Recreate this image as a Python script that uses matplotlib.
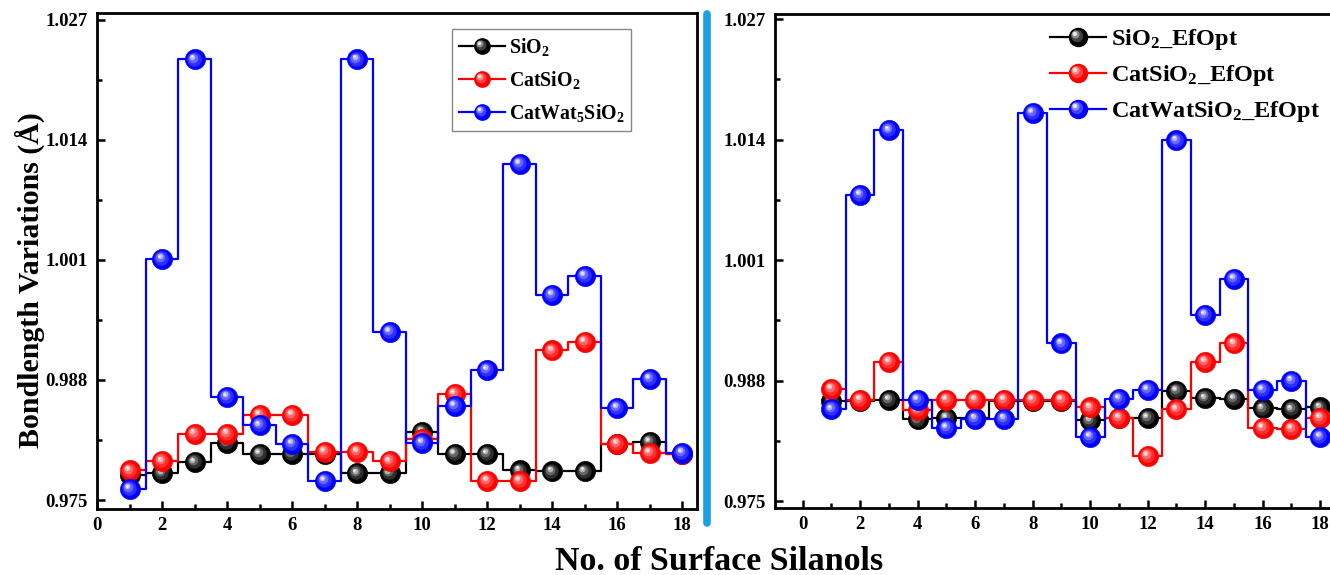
import numpy as np
import matplotlib
matplotlib.use("Agg")
import matplotlib.pyplot as plt
from matplotlib.ticker import MultipleLocator, AutoMinorLocator
from matplotlib.lines import Line2D
from matplotlib.legend_handler import HandlerTuple
from matplotlib.transforms import offset_copy
from matplotlib.colors import to_rgb
from matplotlib.path import Path

# ── Data ──────────────────────────────────────────────────────────────────
silanol = list(range(1, 19))

# left panel
sio2 = [0.9777, 0.9779, 0.9791, 0.9812, 0.9800, 0.9800, 0.9800, 0.9779, 0.9779,
        0.9824, 0.9800, 0.9800, 0.9782, 0.9781, 0.9781, 0.9811, 0.9813, 0.9800]
cat_sio2 = [0.9782, 0.9792, 0.9822, 0.9822, 0.9842, 0.9842, 0.9802, 0.9802, 0.9792,
            0.9816, 0.9865, 0.9771, 0.9771, 0.9912, 0.9921, 0.9811, 0.9801, 0.9800]
catwat_sio2 = [0.9762, 1.0011, 1.0227, 0.9862, 0.9831, 0.9811, 0.9771, 1.0227, 0.9932,
               0.9812, 0.9852, 0.9891, 1.0114, 0.9972, 0.9993, 0.9850, 0.9881, 0.9801]

# right panel (EfOpt)
sio2_ef = [0.9858, 0.9858, 0.9859, 0.9838, 0.9840, 0.9840, 0.9858, 0.9858, 0.9858,
           0.9837, 0.9840, 0.9840, 0.9869, 0.9861, 0.9860, 0.9850, 0.9849, 0.9851]
cat_sio2_ef = [0.9871, 0.9859, 0.9900, 0.9848, 0.9859, 0.9859, 0.9859, 0.9859, 0.9859,
               0.9851, 0.9840, 0.9799, 0.9849, 0.9900, 0.9920, 0.9829, 0.9828, 0.9840]
catwat_sio2_ef = [0.9849, 1.0080, 1.0150, 0.9859, 0.9829, 0.9839, 0.9839, 1.0169, 0.9920,
                  0.9819, 0.9860, 0.9870, 1.0139, 0.9951, 0.9990, 0.9870, 0.9880, 0.9819]

left_labels = ["SiO$_2$", "CatSiO$_2$", "CatWat$_5$SiO$_2$"]
right_labels = ["SiO$_2$_EfOpt", "CatSiO$_2$_EfOpt", "CatWatSiO$_2$_EfOpt"]
y_ticks = [0.975, 0.988, 1.001, 1.014, 1.027]

COLORS = ["#000000", "#ff0000", "#0000ff"]
SEP_BLUE = "#1ba1e2"

# ── Style ─────────────────────────────────────────────────────────────────
plt.rcParams["font.family"] = ["Liberation Serif", "DejaVu Serif"]
plt.rcParams["font.weight"] = "bold"
plt.rcParams["mathtext.fontset"] = "custom"
plt.rcParams["mathtext.rm"] = "Liberation Serif:bold"
plt.rcParams["mathtext.it"] = "Liberation Serif:bold"
plt.rcParams["mathtext.bf"] = "Liberation Serif:bold"

fig = plt.figure(figsize=(13.3, 5.75), dpi=100)
ax_l = fig.add_axes([97 / 1330, 1 - 509 / 575, 600 / 1330, 496.3 / 575])
ax_r = fig.add_axes([775 / 1330, 1 - 508 / 575, 565 / 1330, 494 / 575])


def lighten(c, f):
    r, g, b = to_rgb(c)
    return (r + (1 - r) * f, g + (1 - g) * f, b + (1 - b) * f)


def sphere(ax, x, y, color, size, z):
    ax.plot(x, y, ls="none", marker="o", ms=size, mfc=color, mec=color,
            mew=0.5, zorder=z)
    for frac, mix, dx, dy in [(0.72, 0.18, -0.6, 0.6), (0.48, 0.4, -1.2, 1.3),
                              (0.28, 0.7, -1.7, 1.9), (0.13, 0.95, -2.0, 2.2)]:
        tr = offset_copy(ax.transData, fig=ax.figure, x=dx, y=dy, units="points")
        ax.plot(x, y, ls="none", marker="o", ms=size * frac,
                mfc=lighten(color, mix), mec="none", transform=tr, zorder=z)


def panel(ax, series, xlim, ylim):
    for i, (vals, col) in enumerate(zip(series, COLORS)):
        ax.plot(silanol, vals, drawstyle="steps-mid", color=col, lw=1.6,
                zorder=2 + 2 * i)
        sphere(ax, silanol, vals, col, 14.5, 3 + 2 * i)
    ax.set_xlim(*xlim)
    ax.set_ylim(*ylim)
    ax.set_yticks(y_ticks)
    ax.set_yticklabels([f"{v:.3f}" for v in y_ticks])
    ax.yaxis.set_minor_locator(AutoMinorLocator(2))
    ax.xaxis.set_major_locator(MultipleLocator(2))
    ax.xaxis.set_minor_locator(MultipleLocator(1))
    ax.tick_params(which="both", direction="in", width=1.8, labelsize=13.5,
                   top=False, right=False)
    ax.tick_params(which="major", length=6)
    ax.tick_params(which="minor", length=3.5)
    ax.tick_params(axis="y", pad=7)
    ax.tick_params(axis="x", pad=6)
    for lab in ax.get_xticklabels() + ax.get_yticklabels():
        lab.set_fontweight("bold")
    for s in ax.spines.values():
        s.set_linewidth(2.0)


def shifted_dot(r, cx, cy):
    # circle off-centre; an extra lone vertex at the corner keeps the offset
    circ = Path.circle(center=(cx, cy), radius=r)
    verts = np.vstack([[[1.0, -1.0]], circ.vertices])
    codes = np.concatenate([[Path.MOVETO], circ.codes])
    return Path(verts, codes)


def handles(size):
    hs = []
    for col in COLORS:
        base = Line2D([], [], color=col, lw=1.6, marker="o", ms=size,
                      mfc=col, mec=col)
        parts = [base]
        for r, mix, off in [(0.34, 0.25, 0.08), (0.22, 0.55, 0.16), (0.12, 0.9, 0.2)]:
            parts.append(Line2D([], [], ls="none", marker=shifted_dot(r, -off, off),
                                ms=size * 2, mfc=lighten(col, mix), mec="none"))
        hs.append(tuple(parts))
    return hs


panel(ax_l, [sio2, cat_sio2, catwat_sio2], (0, 18.46), (0.97403, 1.02776))
panel(ax_r, [sio2_ef, cat_sio2_ef, catwat_sio2_ef], (-0.96, 18.69), (0.97425, 1.02754))
ax_r.spines["right"].set_visible(False)

tuple_handler = {tuple: HandlerTuple(ndivide=1, pad=0)}

leg_l = ax_l.legend(handles(11), left_labels, loc="upper left",
                    bbox_to_anchor=(0.592, 0.967), fancybox=False,
                    edgecolor="#888888", framealpha=1, fontsize=14.3,
                    handlelength=2.3, handletextpad=0.2, labelspacing=0.55,
                    borderpad=0.35, borderaxespad=0,
                    handler_map=tuple_handler)
leg_l.get_frame().set_linewidth(1.0)

ax_r.legend(handles(13), right_labels, loc="upper left",
            bbox_to_anchor=(0.47, 0.993), frameon=False, fontsize=17.5,
            handlelength=2.3, handletextpad=0.2, labelspacing=0.45,
            borderaxespad=0, handler_map=tuple_handler)

# separator between panels
fig.add_artist(Line2D([707 / 1330, 707 / 1330], [1 - 14 / 575, 1 - 523 / 575],
                      transform=fig.transFigure, color=SEP_BLUE, lw=5.5,
                      solid_capstyle="round"))

fig.text(30 / 1330, 1 - 280 / 575, "Bondlength Variations (Å)", rotation=90,
         ha="center", va="center", fontsize=21.5, fontweight="bold")
fig.text(719 / 1330, 1 - 562 / 575, "No. of Surface Silanols",
         ha="center", va="center", fontsize=24.5, fontweight="bold")

fig.savefig("out.png", dpi=100)
